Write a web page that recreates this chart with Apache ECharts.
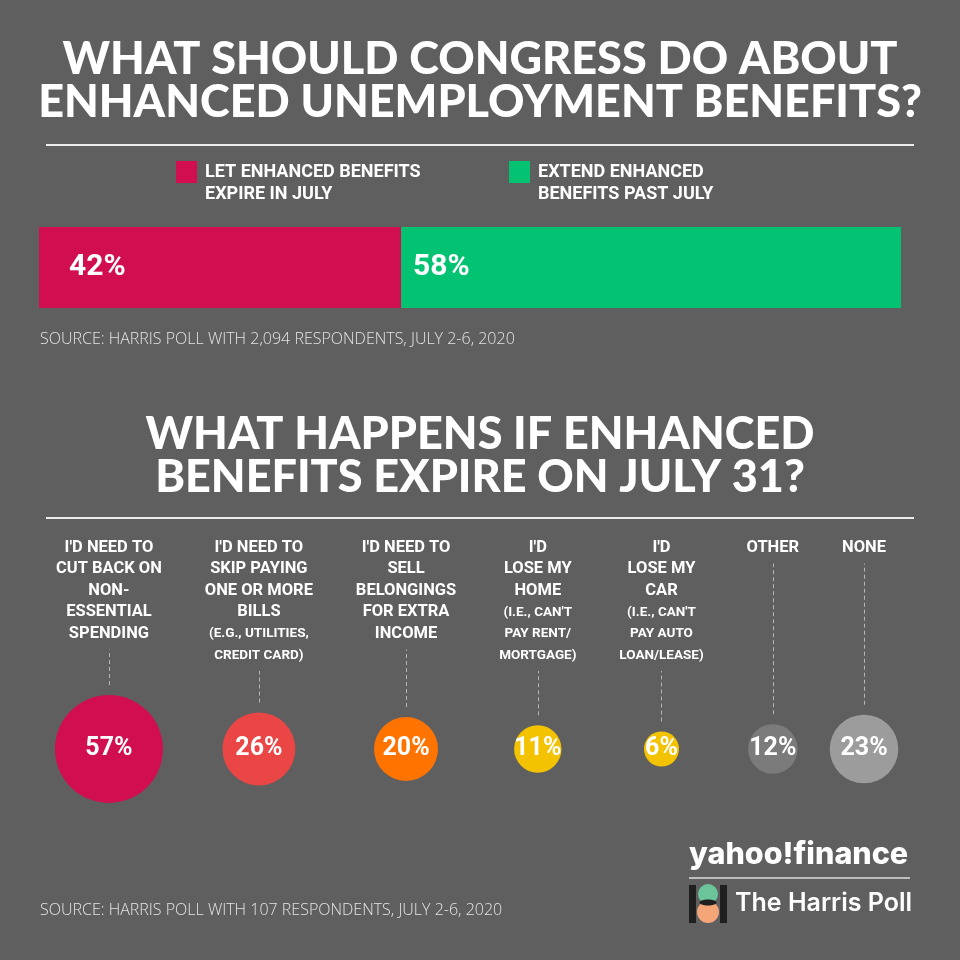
<!DOCTYPE html>
<html><head><meta charset="utf-8">
<script src="https://cdn.jsdelivr.net/npm/echarts@6/dist/echarts.min.js"></script>
<style>html,body{margin:0;padding:0;background:#5f5f5f}#chart{width:960px;height:960px}</style>
</head><body><div id="chart"></div>
<script>
// ---------------- data ----------------
const titleTop = "WHAT SHOULD CONGRESS DO ABOUT\nENHANCED UNEMPLOYMENT BENEFITS?";
const titleBottom = "WHAT HAPPENS IF ENHANCED\nBENEFITS EXPIRE ON JULY 31?";
const stanceNames = ["LET ENHANCED BENEFITS\nEXPIRE IN JULY", "EXTEND ENHANCED\nBENEFITS PAST JULY"];
const stanceValues = [42, 58];
const outcomeLabels = [
  "I'D NEED TO\nCUT BACK ON\nNON-\nESSENTIAL\nSPENDING",
  "I'D NEED TO\nSKIP PAYING\nONE OR MORE\nBILLS",
  "I'D NEED TO\nSELL\nBELONGINGS\nFOR EXTRA\nINCOME",
  "I'D\nLOSE MY\nHOME",
  "I'D\nLOSE MY\nCAR",
  "OTHER",
  "NONE"
];
const outcomeNotes = [
  "",
  "(E.G., UTILITIES,\nCREDIT CARD)",
  "",
  "(I.E., CAN'T\nPAY RENT/\nMORTGAGE)",
  "(I.E., CAN'T\nPAY AUTO\nLOAN/LEASE)",
  "",
  ""
];
const outcomeValues = [57, 26, 20, 11, 6, 12, 23];
const sourceTop = "SOURCE: HARRIS POLL WITH 2,094 RESPONDENTS, JULY 2-6, 2020";
const sourceBottom = "SOURCE: HARRIS POLL WITH 107 RESPONDENTS, JULY 2-6, 2020";

// ---------------- style ----------------
const BG = '#5f5f5f';
const stanceColors = ['#d10f50', '#03c373'];
const outcomeColors = ['#d10f50', '#ea4646', '#ff7300', '#f3c200', '#f3c200', '#7b7b7b', '#9c9c9c'];
const NARROW = 'Roboto, sans-serif';
const HEAVY = 'Lato, Roboto, sans-serif';
const MAIN_SIZE = 16.5, NOTE_SIZE = 13.5, LINE_H = 21.5;
const LABEL_TOP = 537;       // top of first label line box
const BUBBLE_CY = 749;       // bubble row centre
const BUBBLE_K = 14.3;       // diameter = K * sqrt(value)
const DASH_PAD = 5, BUBBLE_PAD = 10;
const COL_LEFT = 56, COL_RIGHT = 886;

// ---------------- layout of bubble columns (from label widths) ----------------
const mctx = document.createElement('canvas').getContext('2d');
function textW(s, size) { mctx.font = 'bold ' + size + 'px ' + NARROW; return mctx.measureText(s).width; }
const blocks = outcomeLabels.map((lab, i) => {
  const main = lab.split('\n');
  const notes = outcomeNotes[i] ? outcomeNotes[i].split('\n') : [];
  const w = Math.max(...main.map(s => textW(s, MAIN_SIZE)), ...notes.map(s => textW(s, NOTE_SIZE)));
  return { main, notes, w, lines: main.length + notes.length };
});
const sumW = blocks.reduce((a, b) => a + b.w, 0);
const gap = (COL_RIGHT - COL_LEFT - sumW) / (blocks.length - 1);
let xCursor = COL_LEFT;
blocks.forEach(b => { b.cx = xCursor + b.w / 2; xCursor += b.w + gap; });

const grids = [{ left: 39, top: 227, width: 862, height: 81, containLabel: false, outerBoundsMode: 'none' }];
const xAxes = [{ type: 'value', gridIndex: 0, min: 0, max: 100, show: false }];
const yAxes = [{ type: 'category', gridIndex: 0, data: ['stance'], show: false }];
const series = stanceNames.map((n, i) => ({
  type: 'bar', name: n, stack: 'stance', xAxisIndex: 0, yAxisIndex: 0,
  data: [stanceValues[i]], barWidth: '100%', silent: true,
  itemStyle: { color: stanceColors[i] },
  label: { show: true, position: 'insideLeft', distance: i === 0 ? 30 : 12, formatter: '{c}%',
    color: '#fff', fontSize: 30, fontWeight: 'bold', fontFamily: NARROW }
}));

blocks.forEach((b, i) => {
  const v = outcomeValues[i];
  const r = BUBBLE_K * Math.sqrt(v) / 2;
  const gridTop = BUBBLE_CY - r - BUBBLE_PAD;
  const textBottom = LABEL_TOP + b.lines * LINE_H;
  const margin = gridTop - textBottom;
  const gi = i + 1;
  grids.push({ left: b.cx - 60, width: 120, top: gridTop, height: 2 * (r + BUBBLE_PAD), containLabel: false, outerBoundsMode: 'none' });
  const rich = b.main.map(s => '{m|' + s + '}').concat(b.notes.map(s => '{n|' + s + '}')).join('\n');
  xAxes.push({
    type: 'category', gridIndex: gi, position: 'top', data: [outcomeLabels[i]],
    axisLine: { show: false }, splitLine: { show: false },
    axisTick: { show: true, alignWithLabel: true, length: margin - DASH_PAD,
      lineStyle: { type: [4, 3], color: '#b5b5b5', width: 1 } },
    axisLabel: { interval: 0, margin: margin, formatter: () => rich,
      rich: {
        m: { color: '#fff', fontSize: MAIN_SIZE, fontWeight: 'bold', fontFamily: NARROW, lineHeight: LINE_H, align: 'center' },
        n: { color: '#fff', fontSize: NOTE_SIZE, fontWeight: 'bold', fontFamily: NARROW, lineHeight: LINE_H, align: 'center' }
      } }
  });
  yAxes.push({ type: 'category', gridIndex: gi, data: [''], show: false });
  series.push({
    type: 'scatter', xAxisIndex: gi, yAxisIndex: gi, silent: true,
    data: [[0, 0, v]],
    symbolSize: d => BUBBLE_K * Math.sqrt(d[2]),
    itemStyle: { color: outcomeColors[i], opacity: 1 },
    label: { show: true, position: 'inside', formatter: p => p.value[2] + '%',
      color: '#fff', fontSize: 25, fontWeight: 'bold', fontFamily: NARROW }
  });
});

const titleStyle = { color: '#fff', fontSize: 45, fontWeight: 900, fontFamily: HEAVY, lineHeight: 43 };

const option = {
  backgroundColor: BG,
  animation: false,
  title: [
    { text: titleTop, left: 'center', top: 38, padding: 0, textStyle: titleStyle },
    { text: titleBottom, left: 'center', top: 413, padding: 0, textStyle: titleStyle }
  ],
  legend: stanceNames.map((n, i) => ({
    data: [n], left: [176, 509][i], top: 161, padding: 0, selectedMode: false,
    icon: 'path://M0,0H21V22H0ZM0,44.95H0.01V45H0Z', itemWidth: 21, itemHeight: 45,
    textStyle: { color: '#fff', fontSize: 18, fontWeight: 'bold', fontFamily: NARROW, lineHeight: 22.5, padding: [0, 0, 0, 3] }
  })),
  grid: grids, xAxis: xAxes, yAxis: yAxes, series: series,
  graphic: [
    { type: 'line', shape: { x1: 46, y1: 145, x2: 914, y2: 145 }, style: { stroke: '#ececec', lineWidth: 2 }, silent: true },
    { type: 'line', shape: { x1: 46, y1: 518, x2: 914, y2: 518 }, style: { stroke: '#ececec', lineWidth: 2 }, silent: true },
    { type: 'text', x: 40, y: 339, style: { text: sourceTop, fill: '#e4e4e4', font: '300 16px "Open Sans"', verticalAlign: 'middle' }, silent: true },
    { type: 'text', x: 40, y: 910, style: { text: sourceBottom, fill: '#e4e4e4', font: '300 16px "Open Sans"', verticalAlign: 'middle' }, silent: true },
    // yahoo finance logo
    { type: 'text', x: 689, y: 855, style: { text: 'yahoo!finance', fill: '#fff', font: '800 30.5px Inter', verticalAlign: 'middle' }, silent: true },
    { type: 'line', shape: { x1: 689, y1: 878, x2: 910, y2: 878 }, style: { stroke: '#dcdcdc', lineWidth: 1.5 }, silent: true },
    // harris poll mark
    { type: 'rect', shape: { x: 689, y: 885, width: 7, height: 38 }, style: { fill: '#1f1f1f' }, silent: true },
    { type: 'rect', shape: { x: 720, y: 885, width: 7, height: 38 }, style: { fill: '#1f1f1f' }, silent: true },
    { type: 'circle', shape: { cx: 708, cy: 894, r: 10 }, style: { fill: '#6cc49a' }, silent: true },
    { type: 'circle', shape: { cx: 708, cy: 912, r: 11 }, style: { fill: '#f4a679' }, silent: true },
    { type: 'ellipse', shape: { cx: 708, cy: 902.5, rx: 8.5, ry: 3 }, style: { fill: '#1f1f1f' }, silent: true },
    { type: 'text', x: 735, y: 903, style: { text: 'The Harris Poll', fill: '#fff', font: '600 25px Inter', verticalAlign: 'middle' }, silent: true }
  ]
};

const chart = echarts.init(document.getElementById('chart'), null, { renderer: 'canvas' });
chart.setOption(option);
</script>
</body></html>
